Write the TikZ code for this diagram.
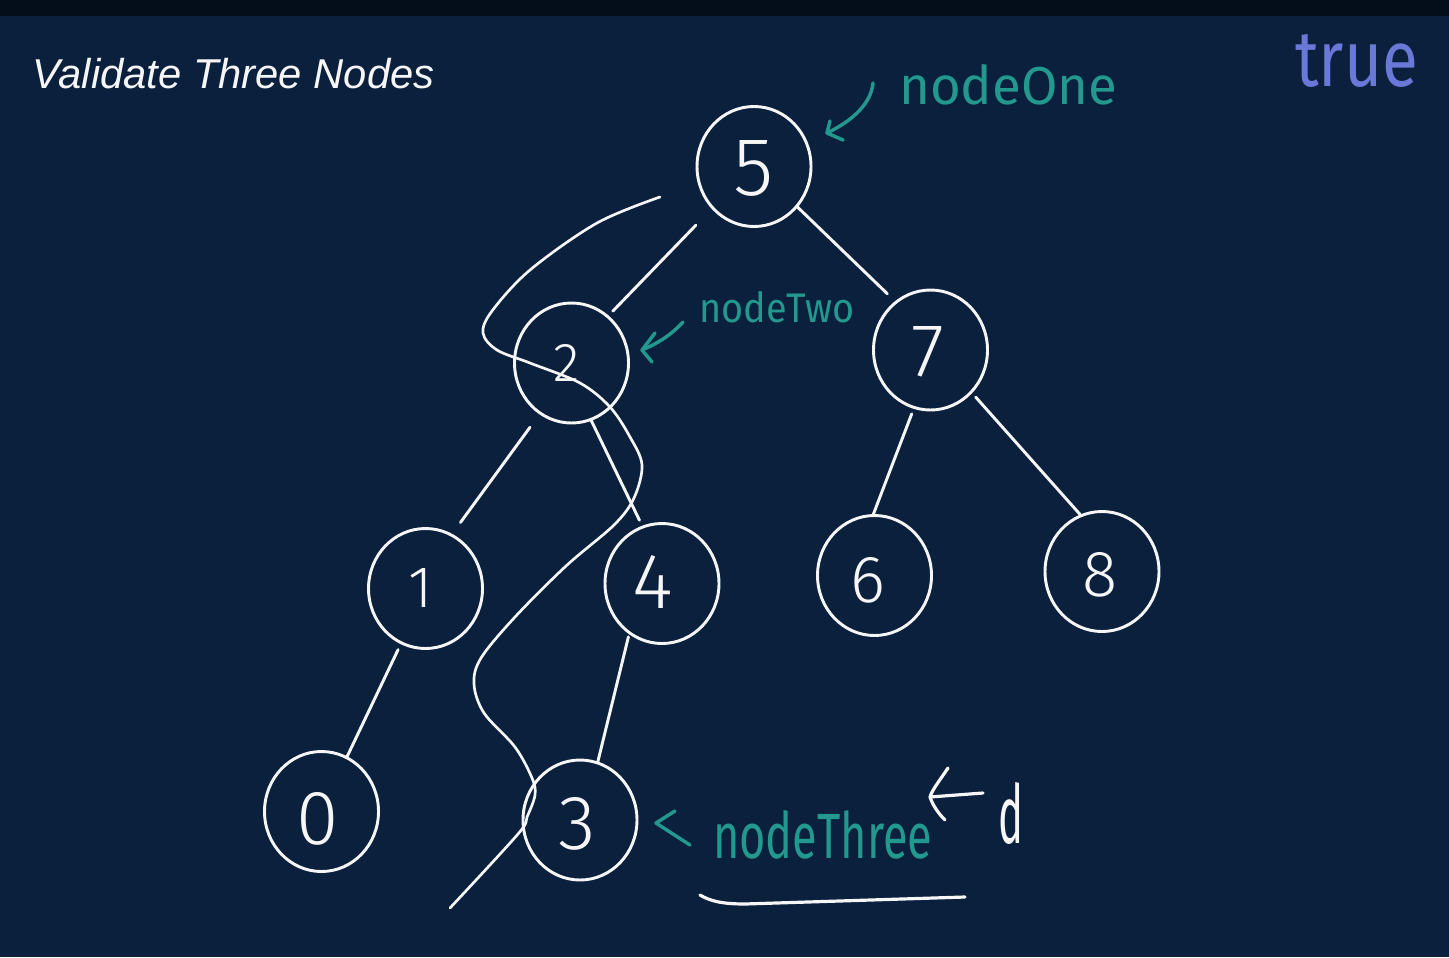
\documentclass[tikz,border=0pt]{standalone}
\usepackage{fontspec}
\usepackage{graphicx}
\usetikzlibrary{shapes.geometric}
\newfontfamily\titlefont{Liberation Sans}
\newfontfamily\hand{Fira Sans Light}
\newfontfamily\handreg{Fira Sans}
\newlength\pxu
\setlength\pxu{0.75pt}
\newcommand\hw[3]{\resizebox{#1\pxu}{#2\pxu}{\handreg #3}}
\newcommand\dg[2]{\resizebox{!}{#1\pxu}{\hand #2}}
\definecolor{bgnavy}{RGB}{10,32,61}
\definecolor{topbar}{RGB}{4,13,26}
\definecolor{chalk}{RGB}{246,246,246}
\definecolor{hteal}{RGB}{35,152,142}
\definecolor{hblue}{RGB}{106,120,216}
\begin{document}
\begin{tikzpicture}[x=0.75pt,y=-0.75pt,
  tnode/.style={draw=chalk, line width=2.2pt, ellipse, minimum width=85.5pt, minimum height=90pt, inner sep=0pt},
  digit/.style={text=chalk, inner sep=0pt},
  edge/.style={draw=chalk, line width=2.2pt, line cap=round},
  trail/.style={draw=chalk, line width=2pt, line cap=round, line join=round},
  pointer/.style={draw=hteal, line width=2.6pt, line cap=round, line join=round},
  wpointer/.style={draw=chalk, line width=2.4pt, line cap=round, line join=round},
  hlabel/.style={inner sep=0pt, anchor=base west}]
\useasboundingbox (0,0) rectangle (1449,957);
\fill[bgnavy] (0,0) rectangle (1449,957);
\fill[topbar] (0,0) rectangle (1449,16);

% title
\node[hlabel, text=chalk] (title) at (32,88) {\titlefont\itshape\fontsize{31.3}{31.3}\selectfont Validate Three Nodes};

% tree nodes
\node[tnode] (n5) at (754,166.5) {};
\node[tnode] (n2) at (571.5,363) {};
\node[tnode] (n7) at (930.5,350) {};
\node[tnode] (n1) at (425.5,588.5) {};
\node[tnode] (n4) at (662,583.5) {};
\node[tnode] (n6) at (874.5,575.5) {};
\node[tnode] (n8) at (1102,571.5) {};
\node[tnode] (n0) at (321.5,811.5) {};
\node[tnode] (n3) at (580,820) {};

% digits
\node[digit] (t5) at (754,168) {\dg{55}{5}};
\node[digit] (t2) at (567,363) {\dg{37}{2}};
\node[digit] (t7) at (928,352) {\dg{50}{7}};
\node[digit] (t1) at (421,588) {\dg{39}{1}};
\node[digit] (t4) at (653,582) {\dg{53}{4}};
\node[digit] (t6) at (868,580) {\dg{45}{6}};
\node[digit] (t8) at (1100,575) {\dg{44}{8}};
\node[digit] (t0) at (318,819) {\dg{52}{0}};
\node[digit] (t3) at (577,824) {\dg{52}{3}};

% edges
\draw[edge, shorten <=17pt, shorten >=4.5pt] (n5.225) -- (n2.52);
\draw[edge, shorten >=8pt] (n5.317) -- (n7.126);
\draw[edge, shorten <=12pt, shorten >=10.5pt] (n2.238) -- (n1.64);
\draw[edge, shorten >=4.5pt] (n2.289) -- (n4.109);
\draw[edge, shorten <=4pt] (n7.254) -- (n6.91);
\draw[edge, shorten <=4pt] (n7.314) -- (n8.111);
\draw[edge, shorten <=4.5pt] (n1.246) -- (n0.65);
\draw[edge, shorten <=2pt] (n4.237) -- (n3.73);

% traversal trail
\coordinate (trailS) at (660,197);
\coordinate (trailE) at (450,908);
\draw[trail] plot[smooth, tension=0.55] coordinates {(trailS) (597,223) (530,270) (492,311) (483,333) (497,350) (530,363) (580,383) (610,407) (630,437) (642,465) (634,498) (614,525) (566,566) (515,617) (481,658) (474,684) (484,713) (515,747) (532,778) (535,795) (527,817) (518,834) (trailE)};

% labels
\node[hlabel, text=hteal] (lOne) at (899,104) {\hw{218}{40}{nodeOne}};
\node[hlabel, text=hteal] (lTwo) at (699,322) {\hw{155}{31}{nodeTwo}};
\node[hlabel, text=hteal] (lThree) at (713,858) {\hw{219}{48}{nodeThree}};
\node[hlabel, text=hblue] (lTrue) at (1295,86) {\hw{123}{52}{true}};
\node[hlabel, text=chalk] (lD) at (998,843) {\hw{25}{61}{d}};

% teal pointers
\coordinate (p1s) at (873,83);
\coordinate (p1t) at (827,133);
\draw[pointer] (p1s) .. controls (871,104) and (852,121) .. (p1t);
\draw[pointer] (830,121) -- (p1t) -- (843,140);
\coordinate (p2s) at (683,322);
\coordinate (p2t) at (642,350);
\draw[pointer] (p2s) .. controls (670,336) and (658,343) .. (p2t);
\draw[pointer] (655,333) -- (p2t) -- (652,362);
\coordinate (p3t) at (656,823);
\draw[pointer] (675,811) -- (p3t) -- (690,845);

% white arrow and underline
\coordinate (wS) at (983,793);
\coordinate (wT) at (930,797);
\draw[wpointer] (wS) -- (wT);
\draw[wpointer] (948,768) .. controls (940,780) and (932,790) .. (wT) .. controls (933,806) and (939,814) .. (945,820);
\coordinate (uS) at (700,895);
\coordinate (uE) at (965,897);
\draw[wpointer] (uS) .. controls (710,901) and (722,904) .. (745,904) -- (uE);
\end{tikzpicture}
\end{document}
